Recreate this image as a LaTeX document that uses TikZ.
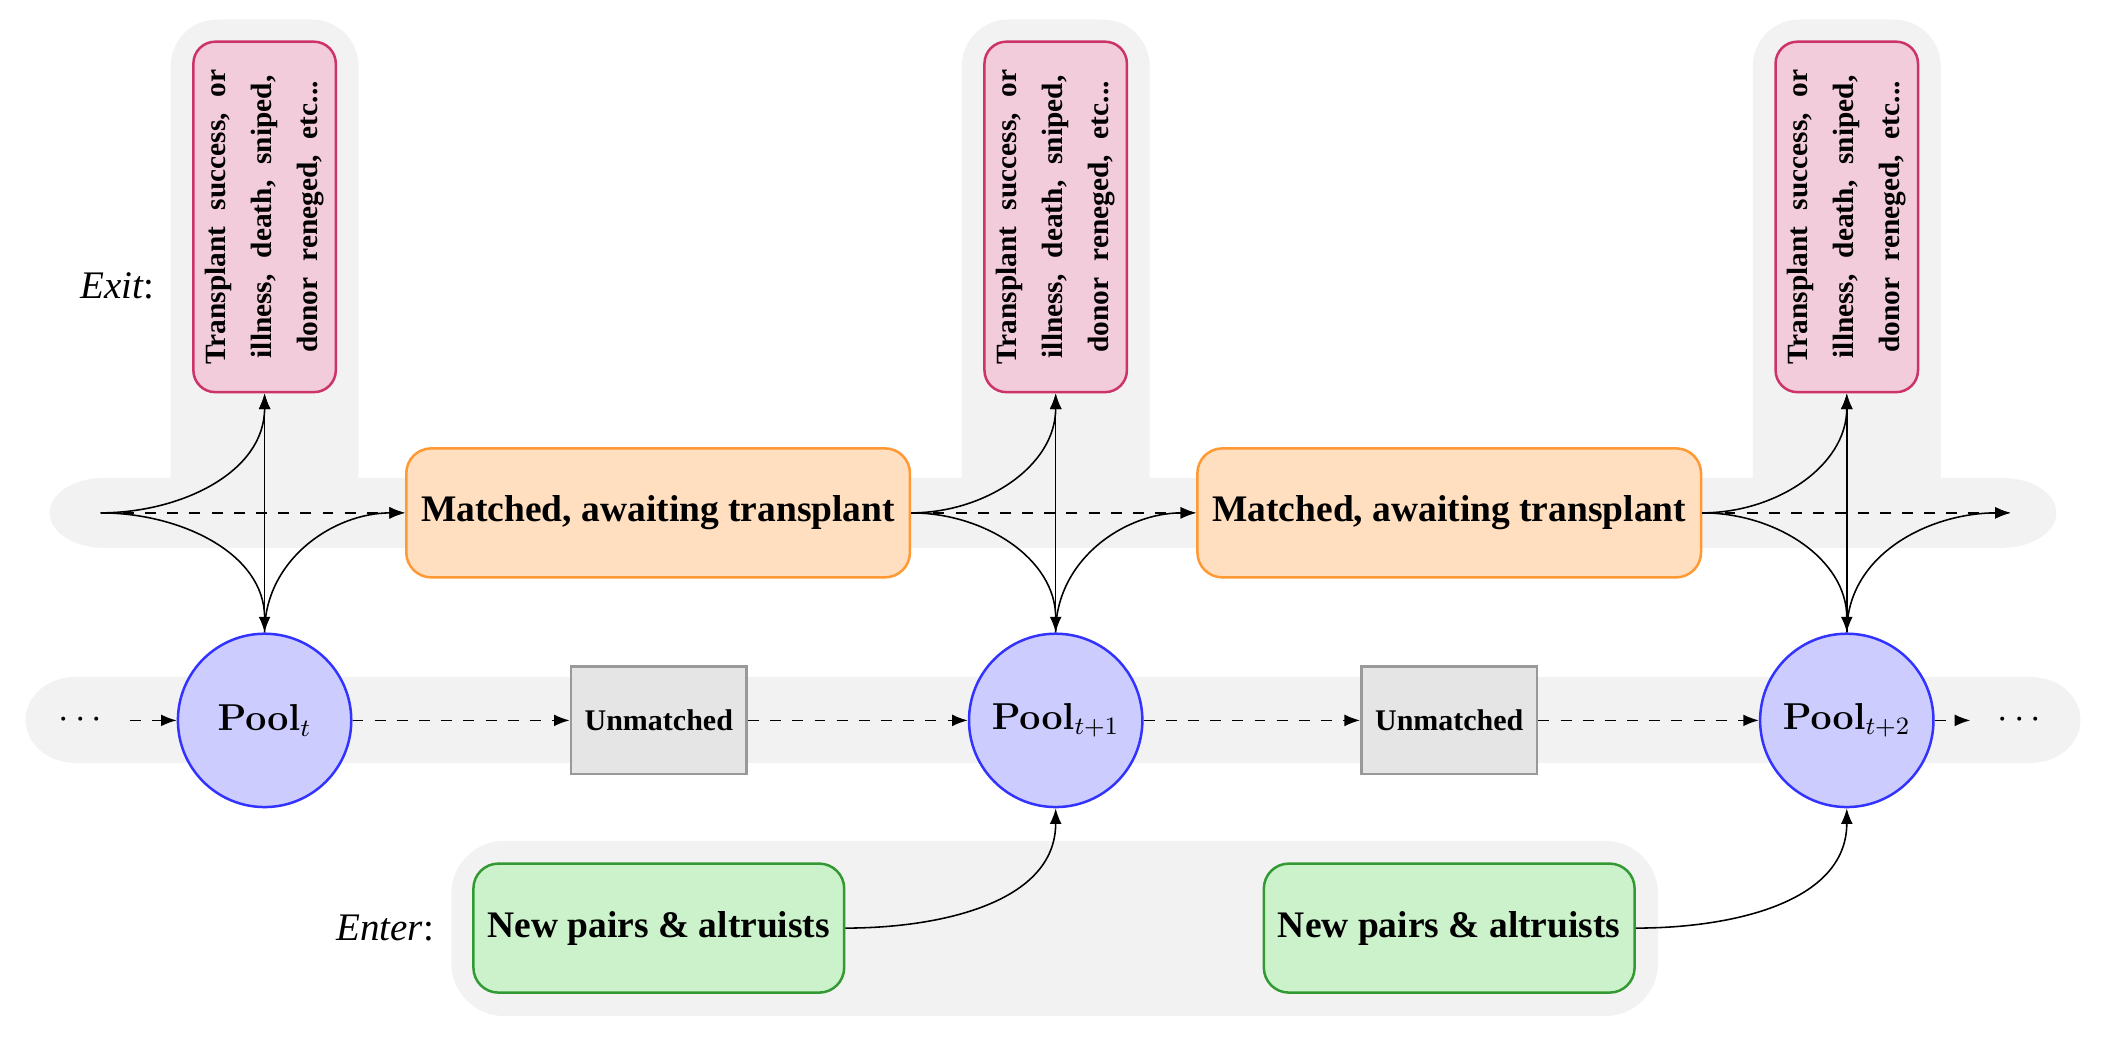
\documentclass[tikz,border=0pt]{standalone}
\usepackage[no-math]{fontspec}
\setmainfont{Liberation Serif}
\newfontfamily\exitfont[WordSpace=2.2]{Liberation Serif}
\usetikzlibrary{arrows.meta}
\definecolor{bggray}{RGB}{242,242,242}
\definecolor{exitdraw}{RGB}{204,51,102}
\definecolor{exitfill}{RGB}{242,204,218}
\definecolor{matchdraw}{RGB}{255,153,51}
\definecolor{matchfill}{RGB}{255,223,191}
\definecolor{pooldraw}{RGB}{51,51,255}
\definecolor{poolfill}{RGB}{204,204,255}
\definecolor{unmdraw}{RGB}{153,153,153}
\definecolor{unmfill}{RGB}{229,229,229}
\definecolor{newdraw}{RGB}{51,153,51}
\definecolor{newfill}{RGB}{204,242,204}
\tikzset{
  bg/.style={fill=bggray},
  exitbox/.style={draw=exitdraw, fill=exitfill, line width=0.8pt, rounded corners=7pt,
    rotate=90, minimum width=112.2pt, minimum height=45.6pt, inner sep=2pt,
    text width=104pt, align=flush center,
    font={\exitfont\fontsize{9.4}{14.8}\selectfont\bfseries}},
  matchbox/.style={draw=matchdraw, fill=matchfill, line width=0.8pt, rounded corners=8pt,
    minimum width=161.25pt, minimum height=41.3pt, inner sep=0pt,
    font={\fontsize{12}{14}\selectfont\bfseries}},
  poolnode/.style={circle, draw=pooldraw, fill=poolfill, line width=0.8pt,
    minimum size=55.5pt, inner sep=0pt, font={\fontsize{12}{14}\selectfont}},
  unmbox/.style={draw=unmdraw, fill=unmfill, line width=0.8pt,
    minimum width=56.3pt, minimum height=34.4pt, inner sep=0pt,
    font={\fontsize{9.6}{11}\selectfont\bfseries}},
  newbox/.style={draw=newdraw, fill=newfill, line width=0.8pt, rounded corners=8pt,
    minimum width=118.7pt, minimum height=41.3pt, inner sep=0pt,
    font={\fontsize{12}{14}\selectfont\bfseries}},
  lbl/.style={inner sep=0pt, font={\fontsize{12.5}{14}\selectfont}},
  dotsnode/.style={inner xsep=8.5pt, inner ysep=2pt, font={\fontsize{12}{14}\selectfont}},
  flow/.style={-{Latex[length=5pt,width=3.8pt]}, line width=0.5pt},
  dflow/.style={flow, dash pattern=on 3.5pt off 3.6pt}
}
\begin{document}
\begin{tikzpicture}[x=0.43pt,y=0.43pt]
\useasboundingbox (0,0) rectangle (1568,771.35);
% backgrounds
\fill[bg] (77,415.5) -- (1491,415.5) arc[start angle=90,end angle=-90,x radius=40,y radius=26]
  -- (77,363.5) arc[start angle=-90,end angle=-270,x radius=40,y radius=26] -- cycle;
\foreach \X in {197,786,1375}{
  \fill[bg, rounded corners=15pt] (\X-70,370) rectangle (\X+70,756.85);
}
\fill[bg] (56,267.35) -- (1512,267.35) arc[start angle=90,end angle=-90,x radius=37,y radius=32]
  -- (56,203.35) arc[start angle=-90,end angle=-270,x radius=37,y radius=32] -- cycle;
\fill[bg, rounded corners=17pt] (336,14.85) rectangle (1234.5,145.35);

% nodes
\node[exitbox] (x1) at (197,609.85) {Transplant success, or\\illness, death, sniped,\\donor reneged, etc...};
\node[exitbox] (x2) at (786,609.85) {Transplant success, or\\illness, death, sniped,\\donor reneged, etc...};
\node[exitbox] (x3) at (1375,609.85) {Transplant success, or\\illness, death, sniped,\\donor reneged, etc...};
\node[matchbox] (m1) at (490,389.5) {Matched, awaiting transplant};
\node[matchbox] (m2) at (1079,389.5) {Matched, awaiting transplant};
\node[poolnode] (p1) at (197,235) {$\mathbf{Pool}_{t}$};
\node[poolnode] (p2) at (786,235) {$\mathbf{Pool}_{t+1}$};
\node[poolnode] (p3) at (1375,235) {$\mathbf{Pool}_{t+2}$};
\node[unmbox] (u1) at (490.5,235) {Unmatched};
\node[unmbox] (u2) at (1079,235) {Unmatched};
\node[newbox] (n1) at (490.5,80.35) {New pairs \& altruists};
\node[newbox] (n2) at (1079,80.35) {New pairs \& altruists};
\node[lbl] (exitl) at (87.5,558.35) {\textit{Exit}:};
\node[lbl, anchor=east] (enterl) at (323.5,80.35) {\textit{Enter}:};
\node[dotsnode] (d1) at (60,235) {$\cdots$};
\node[dotsnode] (d2) at (1503.5,235) {$\cdots$};
\coordinate (m0) at (75,389.5);
\coordinate (m3) at (1497,389.5);

% top connectors
\draw[flow] (m0) to[out=0,in=-90] (x1.west);
\draw[flow] (m0) to[out=0,in=90] (p1.north);
\draw[dflow] (m0) -- (m1.west);
\draw[flow] (p1.north) -- (x1.west);
\draw[flow] (p1.north) to[out=90,in=180] (m1.west);

\draw[flow] (m1.east) to[out=0,in=-90] (x2.west);
\draw[flow] (m1.east) to[out=0,in=90] (p2.north);
\draw[dflow] (m1.east) -- (m2.west);
\draw[flow] (p2.north) -- (x2.west);
\draw[flow] (p2.north) to[out=90,in=180] (m2.west);

\draw[flow] (m2.east) to[out=0,in=-90] (x3.west);
\draw[flow] (m2.east) to[out=0,in=90] (p3.north);
\draw[dflow] (m2.east) -- (m3);
\draw[flow] (p3.north) -- (x3.west);
\draw[flow] (p3.north) to[out=90,in=180] (m3);

% bottom row
\draw[dflow] (d1) -- (p1);
\draw[dflow] (p1) -- (u1);
\draw[dflow] (u1) -- (p2);
\draw[dflow] (p2) -- (u2);
\draw[dflow] (u2) -- (p3);
\draw[dflow] (p3) -- (d2);

% entries
\draw[flow] (n1.east) to[out=0,in=-90] (p2.south);
\draw[flow] (n2.east) to[out=0,in=-90] (p3.south);
\end{tikzpicture}
\end{document}
